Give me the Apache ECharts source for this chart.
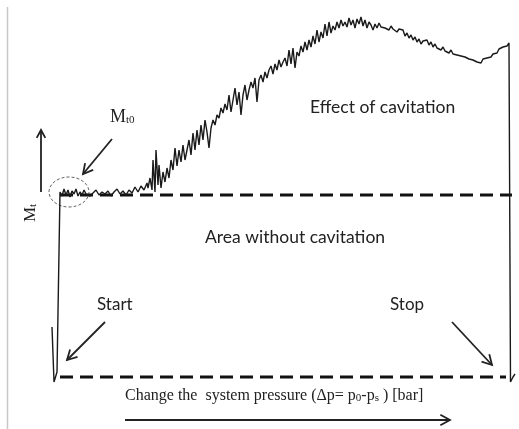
<!DOCTYPE html>
<html>
<head>
<meta charset="utf-8">
<script src="https://cdn.jsdelivr.net/npm/echarts@6/dist/echarts.min.js"></script>
<style>
  html, body { margin: 0; padding: 0; background: #fff; }
  #chart { width: 519px; height: 429px; }
</style>
</head>
<body>
<div id="chart"></div>
<script>
// torque trace: [pressure step, torque (screen units, down = lower)]
var trace = [
  [52, 327], [54, 382], [57, 372], [59, 370], [60, 192],
  [62, 196], [64, 189], [66, 195], [68, 190], [70, 197], [72, 191], [74, 194], [76, 189], [78, 196],
  [80, 192], [82, 195], [84, 190], [86, 194], [88, 192], [90, 196], [93, 193], [96, 190], [99, 195],
  [102, 192], [105, 194], [108, 191], [111, 196], [114, 192], [117, 189], [120, 194], [123, 191],
  [126, 195], [129, 190], [132, 193], [135, 187], [138, 192], [141, 186], [144, 190], [147, 183],
  [148, 188], [150, 178], [152, 190], [153, 160], [155, 192], [156, 150], [158, 185], [159, 165],
  [161, 188], [163, 172], [165, 182], [167, 168], [169, 178], [171, 160], [173, 170], [175, 148],
  [177, 166], [179, 150], [181, 162], [183, 145], [185, 160], [187, 150], [189, 140], [191, 155],
  [193, 133], [195, 150], [197, 130], [199, 145], [201, 125], [203, 140], [205, 120], [207, 132],
  [209, 148], [211, 128], [213, 120], [215, 125], [217, 115], [219, 118], [221, 108], [223, 113],
  [225, 104], [227, 110], [229, 95], [231, 112], [233, 100], [235, 88], [237, 105], [239, 92],
  [241, 115], [243, 95], [245, 85], [247, 100], [249, 90], [251, 82], [253, 88], [255, 78],
  [257, 102], [259, 80], [261, 75], [263, 82], [265, 72], [267, 78], [269, 70], [271, 66],
  [273, 74], [275, 64], [277, 70], [279, 60], [281, 67], [283, 62], [285, 58], [287, 66],
  [289, 50], [291, 64], [293, 48], [295, 68], [297, 52], [299, 56], [301, 46], [303, 52],
  [305, 42], [307, 50], [309, 40], [311, 47], [313, 36], [315, 44], [317, 30], [319, 42],
  [321, 32], [323, 38], [325, 24], [327, 36], [329, 22], [331, 33], [333, 26], [335, 30],
  [337, 22], [339, 28], [341, 20], [343, 26], [345, 22], [347, 27], [349, 18], [351, 25],
  [353, 20], [355, 28], [357, 19], [359, 24], [361, 17], [363, 26], [365, 20], [367, 28],
  [369, 22], [371, 25], [373, 30], [375, 24], [377, 28], [379, 23], [381, 27], [383, 25],
  [385, 28], [387, 26], [389, 30], [391, 26], [393, 29], [395, 27], [397, 32], [399, 29],
  [401, 31], [403, 30], [405, 36], [407, 33], [409, 38], [411, 35], [413, 40], [415, 37],
  [417, 42], [419, 39], [421, 44], [423, 41], [425, 43], [427, 40], [429, 45], [431, 42],
  [433, 47], [435, 44], [437, 48], [439, 46], [441, 50], [443, 47], [445, 51], [447, 49],
  [449, 53], [451, 50], [453, 54], [455, 52], [457, 55], [459, 53], [461, 56], [463, 54],
  [465, 57], [467, 56], [469, 59], [471, 57], [473, 60], [475, 58], [477, 62], [479, 60],
  [481, 63], [483, 59], [485, 60], [487, 58], [489, 56], [491, 57], [493, 54], [495, 52],
  [497, 53], [499, 49], [501, 50], [503, 47], [505, 45], [507, 46], [509, 43], [510, 45],
  [510.5, 382], [513, 377], [515, 374]
];

// reference levels (same units as trace)
var levelNoCav = 195;
var levelBase = 377;
var noCavRange = [60, 512];
var baseRange = [60, 506];

var chart = echarts.init(document.getElementById('chart'));

function arrow(x1, y1, x2, y2, head) {
  var a = Math.atan2(y2 - y1, x2 - x1);
  var s = 0.5;
  return {
    type: 'group',
    children: [
      { type: 'line', shape: { x1: x1, y1: y1, x2: x2, y2: y2 }, style: { stroke: '#222', lineWidth: 1.8 } },
      {
        type: 'polyline',
        shape: {
          points: [
            [x2 - head * Math.cos(a - s), y2 - head * Math.sin(a - s)],
            [x2, y2],
            [x2 - head * Math.cos(a + s), y2 - head * Math.sin(a + s)]
          ]
        },
        style: { stroke: '#222', lineWidth: 1.8, fill: null }
      }
    ]
  };
}

var sans = 'Lato, "Open Sans", sans-serif';
var serif = '"Liberation Serif", "DejaVu Serif", serif';

chart.setOption({
  animation: false,
  backgroundColor: '#fff',
  grid: { left: 0, right: 0, top: 0, bottom: 0 },
  xAxis: { type: 'value', min: 0, max: 519, show: false },
  yAxis: { type: 'value', min: 0, max: 429, inverse: true, show: false },
  series: [
    {
      type: 'line',
      data: [[noCavRange[0], levelNoCav], [noCavRange[1], levelNoCav]],
      symbol: 'none',
      lineStyle: { color: '#111', width: 3, type: [13, 7] }
    },
    {
      type: 'line',
      data: [[baseRange[0], levelBase], [baseRange[1], levelBase]],
      symbol: 'none',
      lineStyle: { color: '#111', width: 3, type: [13, 7] }
    },
    {
      type: 'line',
      data: trace,
      symbol: 'none',
      lineStyle: { color: '#1a1a1a', width: 1.4 }
    }
  ],
  graphic: [
    { type: 'line', shape: { x1: 7.5, y1: 7, x2: 7.5, y2: 429 }, style: { stroke: '#c8c8c8', lineWidth: 1.5 } },
    { type: 'ellipse', shape: { cx: 69, cy: 192, rx: 20, ry: 15 }, style: { fill: null, stroke: '#666', lineWidth: 1, lineDash: [3, 2] } },
    arrow(41, 192, 41, 130, 9),
    arrow(112, 139, 83, 174, 11),
    arrow(105, 322, 67, 360, 11),
    arrow(452, 322, 492, 365, 11),
    arrow(125, 420, 450, 420, 11),
    {
      type: 'text', x: 110, y: 126,
      style: {
        text: '{m|M}{s|t0}', textVerticalAlign: 'bottom',
        rich: {
          m: { fontFamily: serif, fontSize: 18, fill: '#222', verticalAlign: 'bottom' },
          s: { fontFamily: serif, fontSize: 11, fill: '#222', verticalAlign: 'bottom' }
        }
      }
    },
    {
      type: 'text', x: 39, y: 222, rotation: Math.PI / 2,
      style: {
        text: '{m|M}{s|t}', textVerticalAlign: 'bottom',
        rich: {
          m: { fontFamily: serif, fontSize: 17, fill: '#222', verticalAlign: 'bottom' },
          s: { fontFamily: serif, fontSize: 11, fill: '#222', verticalAlign: 'bottom' }
        }
      }
    },
    { type: 'text', x: 310, y: 107, style: { text: 'Effect of cavitation', font: '17.5px ' + sans, fill: '#222', textVerticalAlign: 'middle' } },
    { type: 'text', x: 205, y: 237, style: { text: 'Area without cavitation', font: '17.5px ' + sans, fill: '#222', textVerticalAlign: 'middle' } },
    { type: 'text', x: 97, y: 305, style: { text: 'Start', font: '17px ' + sans, fill: '#222', textVerticalAlign: 'middle' } },
    { type: 'text', x: 390, y: 305, style: { text: 'Stop', font: '17px ' + sans, fill: '#222', textVerticalAlign: 'middle' } },
    {
      type: 'text', x: 125, y: 404,
      style: {
        text: '{n|Change the  system pressure (Δp= p}{s|0}{n|-p}{s|s}{n| ) [bar]}', textVerticalAlign: 'bottom',
        rich: {
          n: { fontFamily: serif, fontSize: 16, fill: '#222', verticalAlign: 'bottom' },
          s: { fontFamily: serif, fontSize: 11, fill: '#222', verticalAlign: 'bottom' }
        }
      }
    }
  ]
});
</script>
</body>
</html>
